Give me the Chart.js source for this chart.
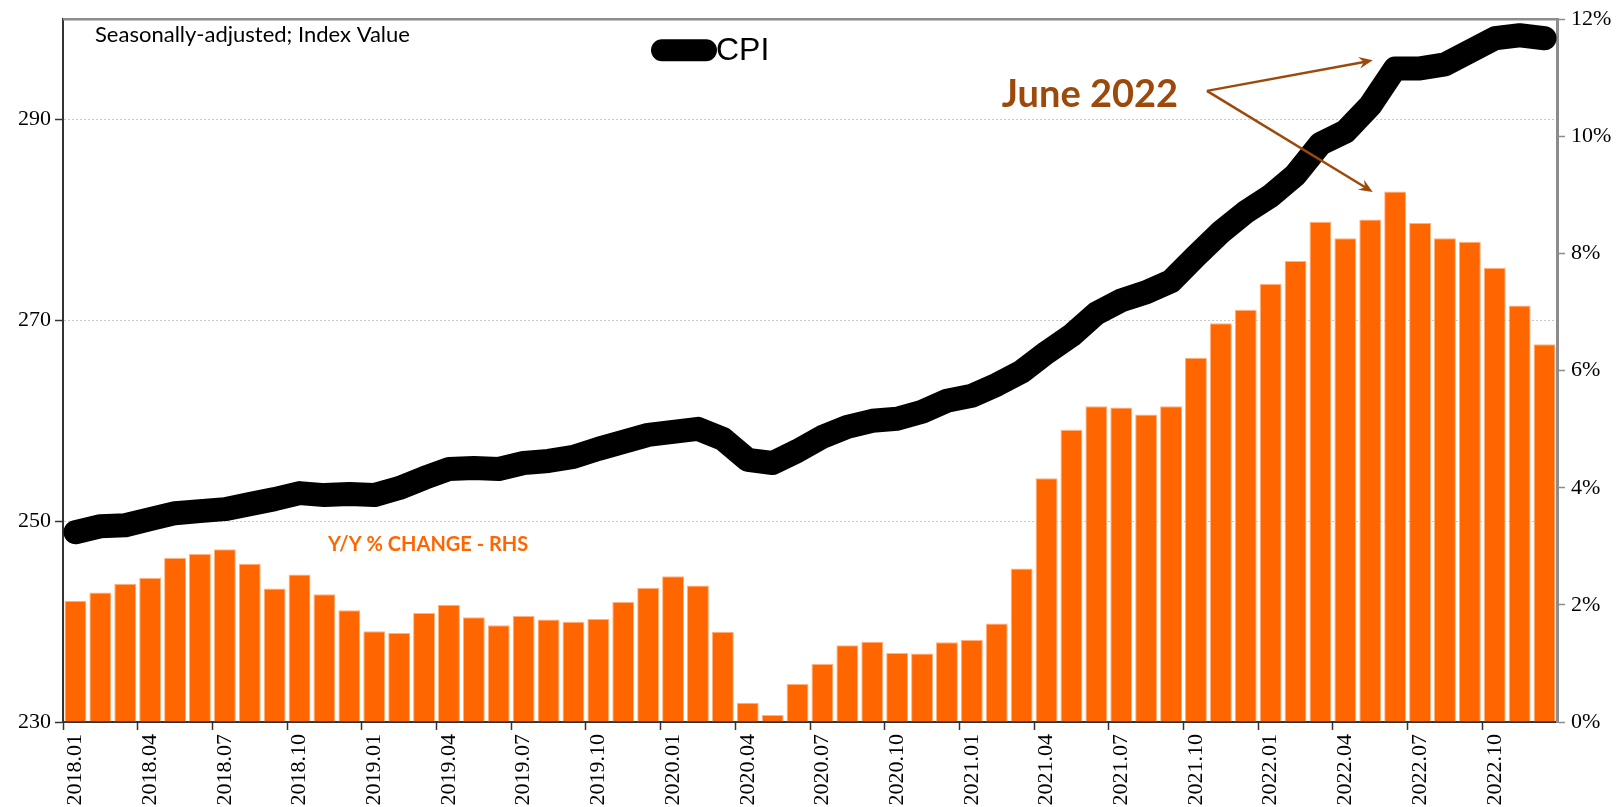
<!DOCTYPE html>
<html>
<head>
<meta charset="utf-8">
<script src="https://cdn.jsdelivr.net/npm/chart.js@4.4.0/dist/chart.umd.min.js"></script>
<style>
  html, body { margin: 0; padding: 0; background: #fff; }
</style>
</head>
<body>
<canvas id="myChart" width="1620" height="807"></canvas>
<script>
const months = [
  "2018.01", "2018.02", "2018.03", "2018.04", "2018.05", "2018.06", "2018.07", "2018.08", "2018.09", "2018.10", "2018.11", "2018.12",
  "2019.01", "2019.02", "2019.03", "2019.04", "2019.05", "2019.06", "2019.07", "2019.08", "2019.09", "2019.10", "2019.11", "2019.12",
  "2020.01", "2020.02", "2020.03", "2020.04", "2020.05", "2020.06", "2020.07", "2020.08", "2020.09", "2020.10", "2020.11", "2020.12",
  "2021.01", "2021.02", "2021.03", "2021.04", "2021.05", "2021.06", "2021.07", "2021.08", "2021.09", "2021.10", "2021.11", "2021.12",
  "2022.01", "2022.02", "2022.03", "2022.04", "2022.05", "2022.06", "2022.07", "2022.08", "2022.09", "2022.10", "2022.11", "2022.12",
];

// CPI index, seasonally adjusted (left axis)
const cpiIndex = [
  248.9, 249.5, 249.6, 250.2, 250.8, 251.0, 251.2, 251.7, 252.2, 252.8, 252.6, 252.7,
  252.6, 253.3, 254.3, 255.2, 255.3, 255.2, 255.8, 256.0, 256.4, 257.2, 257.9, 258.6,
  258.9, 259.2, 258.2, 256.1, 255.8, 257.0, 258.4, 259.4, 260.0, 260.2, 260.9, 262.0,
  262.5, 263.6, 264.9, 266.8, 268.5, 270.7, 272.0, 272.8, 273.9, 276.4, 278.8, 280.8,
  282.4, 284.5, 287.6, 288.8, 291.4, 295.1, 295.1, 295.5, 296.8, 298.1, 298.4, 298.1,
];

// year over year % change (right axis)
const yoyChange = [
  2.07, 2.21, 2.36, 2.46, 2.80, 2.87, 2.95, 2.70, 2.28, 2.52, 2.18, 1.91,
  1.55, 1.52, 1.86, 2.00, 1.79, 1.65, 1.81, 1.75, 1.71, 1.76, 2.05, 2.29,
  2.49, 2.33, 1.54, 0.33, 0.12, 0.65, 0.99, 1.31, 1.37, 1.18, 1.17, 1.36,
  1.40, 1.68, 2.62, 4.16, 4.99, 5.39, 5.37, 5.25, 5.39, 6.22, 6.81, 7.04,
  7.48, 7.87, 8.54, 8.26, 8.58, 9.06, 8.52, 8.26, 8.20, 7.75, 7.11, 6.45,
];

const leftTicks = [230, 250, 270, 290];

const orange = "#FF6600";
const brown = "#9C4A0B";
const serif = "'Liberation Serif', 'Times New Roman', serif";

const drawArrow = (ctx, x0, y0, x1, y1) => {
  const ang = Math.atan2(y1 - y0, x1 - x0);
  ctx.beginPath();
  ctx.moveTo(x0, y0);
  ctx.lineTo(x1 - 6 * Math.cos(ang), y1 - 6 * Math.sin(ang));
  ctx.stroke();
  ctx.beginPath();
  ctx.moveTo(x1, y1);
  ctx.lineTo(x1 - 15 * Math.cos(ang - 0.4), y1 - 15 * Math.sin(ang - 0.4));
  ctx.lineTo(x1 - 9 * Math.cos(ang), y1 - 9 * Math.sin(ang));
  ctx.lineTo(x1 - 15 * Math.cos(ang + 0.4), y1 - 15 * Math.sin(ang + 0.4));
  ctx.closePath();
  ctx.fill();
};

const annotations = {
  id: "annotations",
  afterDatasetsDraw(chart) {
    const { ctx, chartArea, scales } = chart;
    const px = (i) => scales.x.getPixelForValue(i);
    const py = (v) => scales.y.getPixelForValue(v);
    ctx.save();

    // top frame line
    ctx.strokeStyle = "#8c8c8c";
    ctx.lineWidth = 2.5;
    ctx.beginPath();
    ctx.moveTo(chartArea.left, chartArea.top);
    ctx.lineTo(chartArea.right, chartArea.top);
    ctx.stroke();

    ctx.textBaseline = "middle";
    ctx.fillStyle = "#000";
    ctx.font = "22px Lato";
    ctx.fillText("Seasonally-adjusted; Index Value", chartArea.left + 32, chartArea.top + 16);

    // legend
    ctx.strokeStyle = "#000";
    ctx.lineWidth = 22;
    ctx.lineCap = "round";
    ctx.beginPath();
    ctx.moveTo(chartArea.left + 599, chartArea.top + 31);
    ctx.lineTo(chartArea.left + 643, chartArea.top + 31);
    ctx.stroke();
    ctx.font = "32px 'Liberation Sans', Arial, sans-serif";
    ctx.fillText("CPI", chartArea.left + 653, chartArea.top + 32);

    // June 2022 callout
    ctx.fillStyle = brown;
    ctx.font = "bold 38px Lato";
    ctx.fillText("June 2022", px(37.2), py(292.5));
    ctx.strokeStyle = brown;
    ctx.lineWidth = 2.5;
    ctx.lineCap = "butt";
    drawArrow(ctx, px(45.44), py(292.86), px(52.1), py(295.9));
    drawArrow(ctx, px(45.44), py(292.86), px(52.1), py(282.8));

    ctx.fillStyle = orange;
    ctx.font = "bold 20px Lato";
    ctx.fillText("Y/Y % CHANGE - RHS", px(10.14), py(247.7));
    ctx.restore();
  },
};

const ctx = document.getElementById("myChart").getContext("2d");

window.myChart = new Chart(ctx, {
  type: "bar",
  data: {
    labels: months,
    datasets: [
      {
        type: "line",
        label: "CPI",
        data: cpiIndex,
        yAxisID: "y",
        borderColor: "#000",
        borderWidth: 24,
        pointRadius: 0,
        borderCapStyle: "round",
        borderJoinStyle: "round",
        tension: 0,
        order: 0,
      },
      {
        type: "bar",
        label: "Y/Y % CHANGE - RHS",
        data: yoyChange,
        yAxisID: "y2",
        backgroundColor: orange,
        borderColor: "#FFB27F",
        borderWidth: 1,
        barPercentage: 0.88,
        categoryPercentage: 1,
        order: 1,
      },
    ],
  },
  options: {
    responsive: false,
    animation: false,
    layout: { padding: { top: 17 } },
    plugins: {
      legend: { display: false },
      tooltip: { enabled: false },
    },
    scales: {
      x: {
        offset: true,
        grid: {
          offset: true,
          drawOnChartArea: false,
          tickLength: 8,
          tickWidth: 1.5,
          tickColor: (c) =>
            c.index !== undefined && c.index % 3 === 0 ? "#333" : "rgba(0,0,0,0)",
        },
        border: { color: "#333", width: 2 },
        ticks: {
          autoSkip: false,
          minRotation: 90,
          maxRotation: 90,
          padding: 4,
          color: "#000",
          font: { family: serif, size: 22 },
          callback: (v, i) => (i % 3 === 0 ? months[i] : ""),
        },
        afterFit: (s) => {
          s.height = 85;
        },
      },
      y: {
        position: "left",
        min: 230,
        max: 300,
        afterBuildTicks: (s) => {
          s.ticks = leftTicks.map((v) => ({ value: v }));
        },
        grid: {
          color: (c) => (c.tick && c.tick.value === 230 ? "rgba(0,0,0,0)" : "#c8c8c8"),
          lineWidth: 1,
          tickLength: 8,
          tickColor: "#333",
          tickWidth: 1.5,
        },
        border: { color: "#333", width: 2, dash: [2, 2] },
        ticks: {
          color: "#000",
          padding: 4,
          font: { family: serif, size: 22 },
        },
        afterFit: (s) => {
          s.width = 63;
        },
      },
      y2: {
        position: "right",
        min: 0,
        max: 12,
        grid: {
          drawOnChartArea: false,
          tickLength: 8,
          tickColor: "#8c8c8c",
          tickWidth: 1.5,
        },
        border: { color: "#8c8c8c", width: 3 },
        ticks: {
          stepSize: 2,
          color: "#000",
          padding: 6,
          font: { family: serif, size: 22 },
          callback: (v) => v + "%",
        },
        afterFit: (s) => {
          s.width = 63;
        },
      },
    },
  },
  plugins: [annotations],
});
</script>
</body>
</html>
